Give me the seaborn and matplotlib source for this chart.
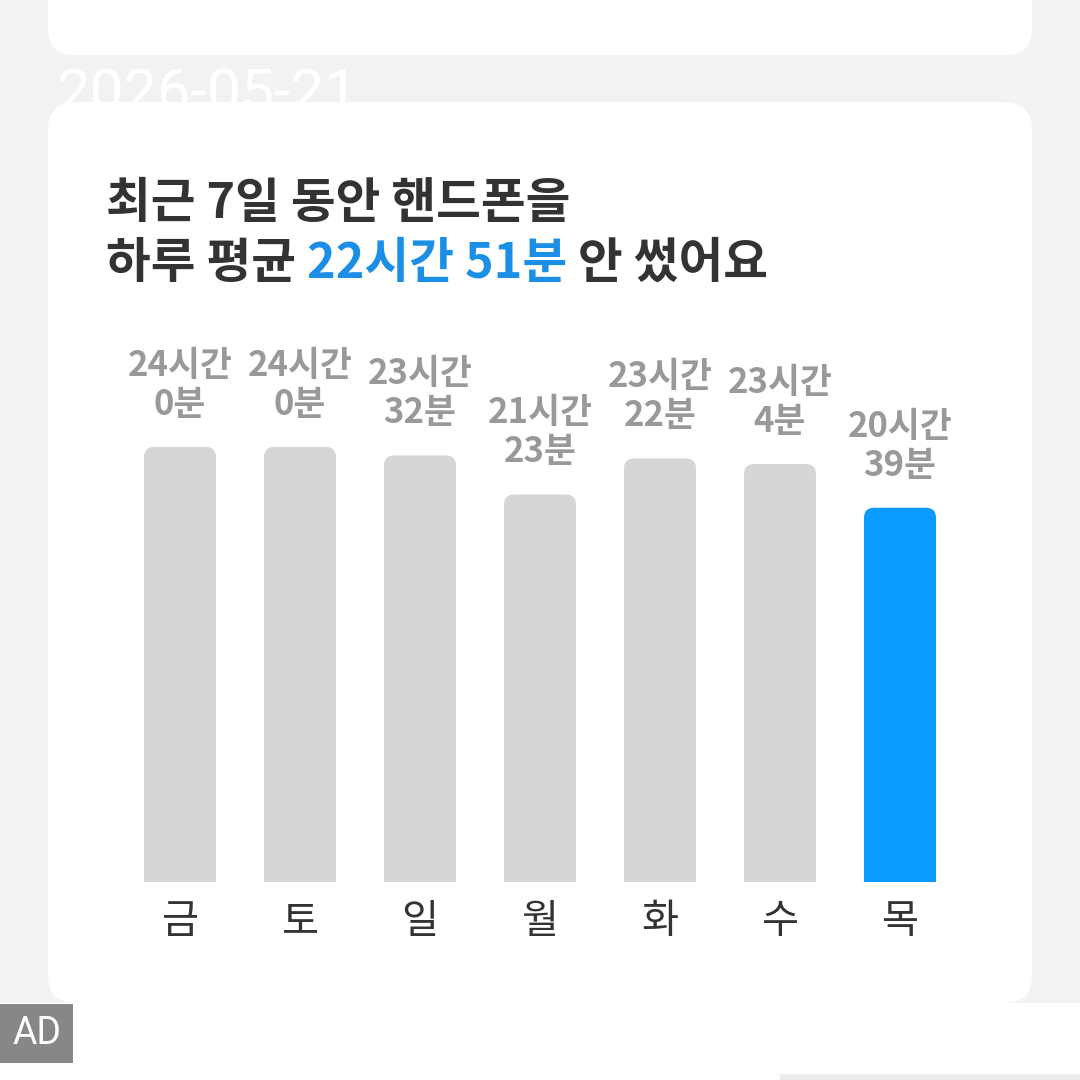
import numpy as np
import pandas as pd
import matplotlib.pyplot as plt
import seaborn as sns
from matplotlib.patches import FancyBboxPatch, Rectangle

days = ["금", "토", "일", "월", "화", "수", "목"]
hours = [24, 24, 23, 21, 23, 23, 20]
mins = [0, 0, 32, 23, 22, 4, 39]
title_line1 = "최근 7일 동안 핸드폰을"
title_pre, title_hl, title_post = "하루 평균 ", "22시간 51분", " 안 썼어요"
date_text = "2026-05-21"

df = pd.DataFrame({"day": days, "minutes": [h * 60 + m for h, m in zip(hours, mins)]})
df["label"] = [f"{h}시간\n{m}분" for h, m in zip(hours, mins)]

sns.set_theme(style="white")
plt.rcParams['font.family'] = ['Noto Sans CJK KR', 'DejaVu Sans']

BG = "#f2f2f2"
GRAY_BAR = "#d6d6d6"
BLUE_BAR = "#0a9bff"
BLUE_TXT = "#1b8fe6"
DARK = "#333333"

fig = plt.figure(figsize=(10.8, 10.8), dpi=100, facecolor=BG)

# background layer in pixel coords (y downwards)
bg = fig.add_axes([0, 0, 1, 1])
bg.set_xlim(0, 1080)
bg.set_ylim(1080, 0)
bg.axis("off")
bg.set_facecolor(BG)

bg.text(56, 95, date_text, color="white", fontsize=43, family="Roboto",
        fontweight="normal", va="center", ha="left", zorder=1)
bg.add_patch(FancyBboxPatch((48, -60), 984, 115, boxstyle="round,pad=0,rounding_size=26",
                            fc="white", ec="none", zorder=2))
bg.add_patch(FancyBboxPatch((48, 102), 984, 901, boxstyle="round,pad=0,rounding_size=28",
                            fc="white", ec="none", zorder=2))
bg.add_patch(Rectangle((0, 1003), 1080, 77, fc="white", ec="none", zorder=2))
bg.add_patch(Rectangle((780, 1074), 300, 6, fc="#ececec", ec="none", zorder=3))
bg.add_patch(Rectangle((0, 1004), 73, 59, fc="#878787", ec="none", zorder=3))
bg.text(37, 1034, "AD", color="white", fontsize=27, family="Roboto",
        fontweight="normal", ha="center", va="center", zorder=4)

# title
bg.text(106, 203, title_line1, color=DARK, fontsize=35, fontweight="bold",
        va="center", ha="left", zorder=4)
fig.canvas.draw()
r = fig.canvas.get_renderer()
x = 106
for seg, col in [(title_pre, DARK), (title_hl, BLUE_TXT), (title_post, DARK)]:
    t = bg.text(x, 263, seg, color=col, fontsize=35, fontweight="bold",
                va="center", ha="left", zorder=4)
    bb = t.get_window_extent(renderer=r)
    x += bb.width

# chart axes
ax = fig.add_axes([120 / 1080, (1080 - 882) / 1080, 840 / 1080, 600 / 1080])
ax.set_facecolor("none")
palette = [GRAY_BAR] * (len(days) - 1) + [BLUE_BAR]
sns.barplot(data=df, x="day", y="minutes", hue="day", palette=palette,
            legend=False, width=0.6, ax=ax, saturation=1)
ymax = 1440 * 600 / 435
ax.set_ylim(0, ymax)
ax.set_xlim(-0.5, len(days) - 0.5)

# rounded top corners (bottom hidden below axis)
px_per_x = 840 / 7
px_per_y = 600 / ymax
rad = 10 / px_per_x
for p in list(ax.patches):
    x0, w, h, c = p.get_x(), p.get_width(), p.get_height(), p.get_facecolor()
    p.remove()
    fb = FancyBboxPatch((x0, -30), w, h + 30, boxstyle=f"round,pad=0,rounding_size={rad}",
                        mutation_aspect=px_per_x / px_per_y, fc=c, ec="none")
    ax.add_patch(fb)

for i, row in df.iterrows():
    ax.annotate(row["label"], (i, row["minutes"]), xytext=(0, 18), textcoords="offset points",
                ha="center", va="bottom", fontsize=25, fontweight="bold",
                color="#999999", linespacing=1.15, annotation_clip=False)

ax.set_xlabel("")
ax.set_ylabel("")
ax.set_yticks([])
ax.tick_params(axis="x", length=0, pad=14, labelsize=29, labelcolor=DARK)
for lab in ax.get_xticklabels():
    lab.set_fontweight("normal")
sns.despine(ax=ax, left=True, bottom=True)

fig.savefig("out.png", dpi=100, facecolor=BG)
